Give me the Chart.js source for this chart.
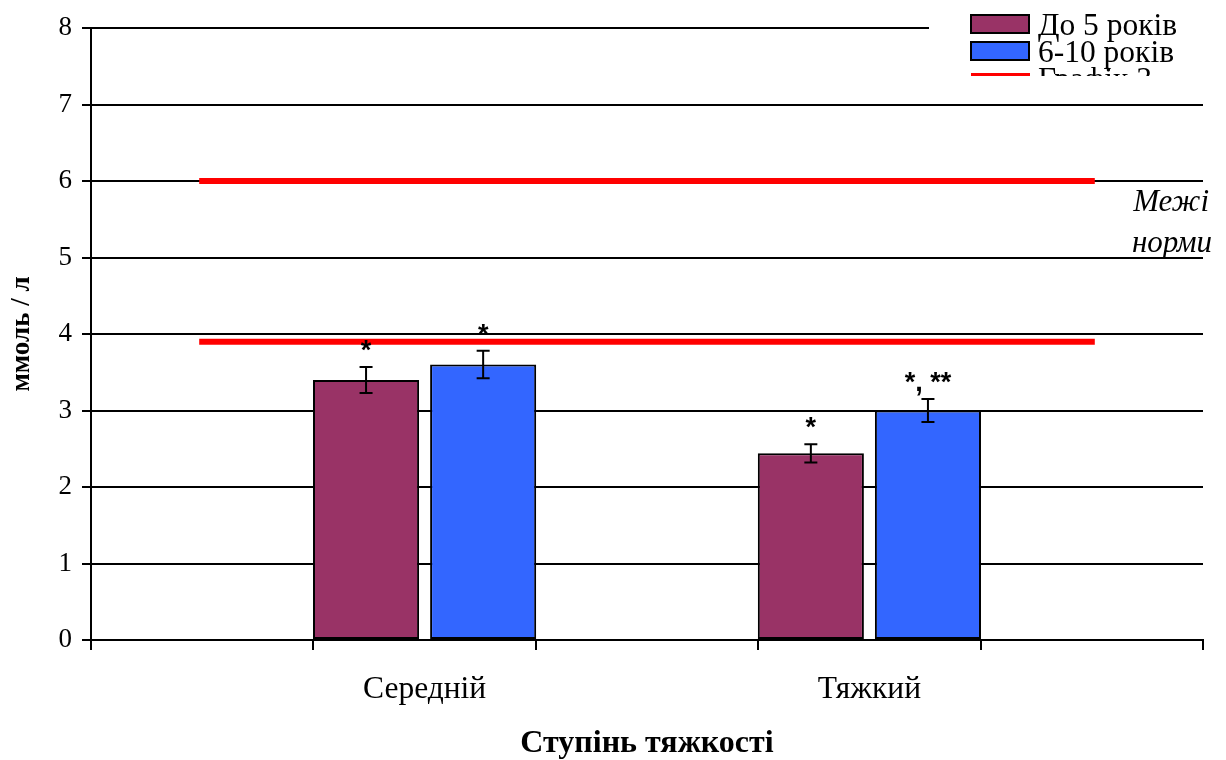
<!DOCTYPE html>
<html>
<head>
<meta charset="utf-8">
<script src="https://cdn.jsdelivr.net/npm/chart.js@4"></script>
<style>
  html, body { margin: 0; padding: 0; background: #fff; }
  #wrap { width: 1226px; height: 760px; position: relative; }
</style>
</head>
<body>
<div id="wrap"><canvas id="c" width="1226" height="760"></canvas></div>
<script>
// Категорії осі X (порожні слоти задають відступи по краях і між групами)
const categories = ['', 'Середній', '', 'Тяжкий', ''];

// Середні значення, ммоль / л
const under5 = [null, 3.4, null, 2.44, null];
const age6to10 = [null, 3.6, null, 3.0, null];

// Похибки середніх
const under5Err = [null, 0.17, null, 0.12, null];
const age6to10Err = [null, 0.18, null, 0.15, null];

// Позначки достовірності
const under5Marks = ['', '*', '', '*', ''];
const age6to10Marks = ['', '*', '', '*, **', ''];

// Межі норми
const normUpper = [6, 6, 6, 6, 6];
const normLower = [3.9, 3.9, 3.9, 3.9, 3.9];

// Підписи осі Y
const yTicks = [0, 1, 2, 3, 4, 5, 6, 7, 8];

const SERIF = '"Liberation Serif", "Times New Roman", serif';
const SANS = '"Liberation Sans", Arial, sans-serif';

const errorBars = {
  id: 'errorBars',
  afterDatasetsDraw(chart) {
    const ctx = chart.ctx;
    const y = chart.scales.y;
    const sets = [[0, under5Err, under5Marks], [1, age6to10Err, age6to10Marks]];
    ctx.save();
    sets.forEach(([di, errs, marks]) => {
      const meta = chart.getDatasetMeta(di);
      const data = chart.data.datasets[di].data;
      meta.data.forEach((bar, i) => {
        if (data[i] == null) return;
        const x = bar.x;
        const yTop = y.getPixelForValue(data[i] + errs[i]);
        const yBot = y.getPixelForValue(data[i] - errs[i]);
        ctx.strokeStyle = '#000';
        ctx.lineWidth = 2;
        ctx.beginPath();
        ctx.moveTo(x, yTop); ctx.lineTo(x, yBot);
        ctx.moveTo(x - 6.5, yTop); ctx.lineTo(x + 6.5, yTop);
        ctx.moveTo(x - 6.5, yBot); ctx.lineTo(x + 6.5, yBot);
        ctx.stroke();
        if (marks[i]) {
          ctx.fillStyle = '#000';
          ctx.font = 'bold 27px ' + SANS;
          ctx.textAlign = 'center';
          ctx.textBaseline = 'alphabetic';
          ctx.fillText(marks[i], x, yTop - 8);
        }
      });
    });
    ctx.restore();
  }
};

const sideNote = {
  id: 'sideNote',
  afterDraw(chart) {
    const ctx = chart.ctx;
    ctx.save();
    ctx.fillStyle = '#000';
    ctx.font = 'italic 31px ' + SERIF;
    ctx.textAlign = 'right';
    ctx.textBaseline = 'alphabetic';
    ctx.fillText('Межі', 1209, 211);
    ctx.fillText('норми', 1212, 252);
    ctx.restore();
  }
};

// Легенда у верхньому правому куті, обрізана знизу
const boxLegend = {
  id: 'boxLegend',
  afterDraw(chart) {
    const ctx = chart.ctx;
    const left = 929, top = 0, right = 1226, bottom = 76;
    ctx.save();
    ctx.fillStyle = '#fff';
    ctx.fillRect(left, top, right - left, bottom - top);
    ctx.beginPath();
    ctx.rect(left, top, right - left, bottom - top);
    ctx.clip();
    [0, 1, 2].forEach((di, r) => {
      const ds = chart.data.datasets[di];
      const cy = 24 + r * 27;
      if (ds.type === 'line') {
        ctx.strokeStyle = ds.borderColor;
        ctx.lineWidth = 6;
        ctx.beginPath();
        ctx.moveTo(971, cy - 2); ctx.lineTo(1030, cy - 2);
        ctx.stroke();
      } else {
        ctx.fillStyle = ds.backgroundColor;
        ctx.fillRect(971, cy - 9, 58, 18);
        ctx.strokeStyle = '#000';
        ctx.lineWidth = 2;
        ctx.strokeRect(971, cy - 9, 58, 18);
      }
      ctx.fillStyle = '#000';
      ctx.font = '31.5px ' + SERIF;
      ctx.textAlign = 'left';
      ctx.textBaseline = 'alphabetic';
      ctx.fillText(ds.label, 1038, cy + 11);
    });
    ctx.restore();
  }
};

new Chart(document.getElementById('c'), {
  data: {
    labels: categories,
    datasets: [
      { type: 'bar', label: 'До 5 років', data: under5, backgroundColor: '#993366',
        borderColor: '#000', borderWidth: 2, borderSkipped: false, order: 2,
        categoryPercentage: 1.053, barPercentage: 0.906 },
      { type: 'bar', label: '6-10 років', data: age6to10, backgroundColor: '#3366FF',
        borderColor: '#000', borderWidth: 2, borderSkipped: false, order: 2,
        categoryPercentage: 1.053, barPercentage: 0.906 },
      { type: 'line', label: 'Графік 3', data: normUpper, borderColor: '#FF0000',
        borderWidth: 6, pointRadius: 0, borderCapStyle: 'square', order: 1 },
      { type: 'line', label: 'Графік 4', data: normLower, borderColor: '#FF0000',
        borderWidth: 6, pointRadius: 0, borderCapStyle: 'square', order: 1 }
    ]
  },
  options: {
    responsive: false,
    animation: false,
    layout: { padding: { top: 28, right: 23, left: 0, bottom: 0 } },
    plugins: { legend: { display: false }, tooltip: { enabled: false } },
    scales: {
      x: {
        offset: true,
        grid: { offset: true, drawOnChartArea: false, color: '#000', lineWidth: 2, tickLength: 10 },
        border: { color: '#000', width: 2 },
        ticks: { color: '#000', font: { family: SERIF, size: 31.5 }, padding: 21, maxRotation: 0, autoSkip: false },
        title: { display: true, text: 'Ступінь тяжкості', color: '#000',
                 font: { family: SERIF, size: 32, weight: 'bold', lineHeight: 1 }, padding: { top: 22, bottom: 0 } },
        afterFit(s) { s.height = 120; }
      },
      y: {
        min: 0, max: 8,
        afterBuildTicks(s) { s.ticks = yTicks.map(v => ({ value: v })); },
        grid: { color: '#000', lineWidth: 2, tickLength: 9 },
        border: { color: '#000', width: 2 },
        ticks: { color: '#000', font: { family: SERIF, size: 27 }, padding: 10 },
        title: { display: true, text: 'ммоль / л', color: '#000',
                 font: { family: SERIF, size: 27, weight: 'bold' }, padding: { top: 6, bottom: 4 } },
        afterFit(s) { s.width = 91; }
      }
    }
  },
  plugins: [errorBars, sideNote, boxLegend]
});
</script>
</body>
</html>
